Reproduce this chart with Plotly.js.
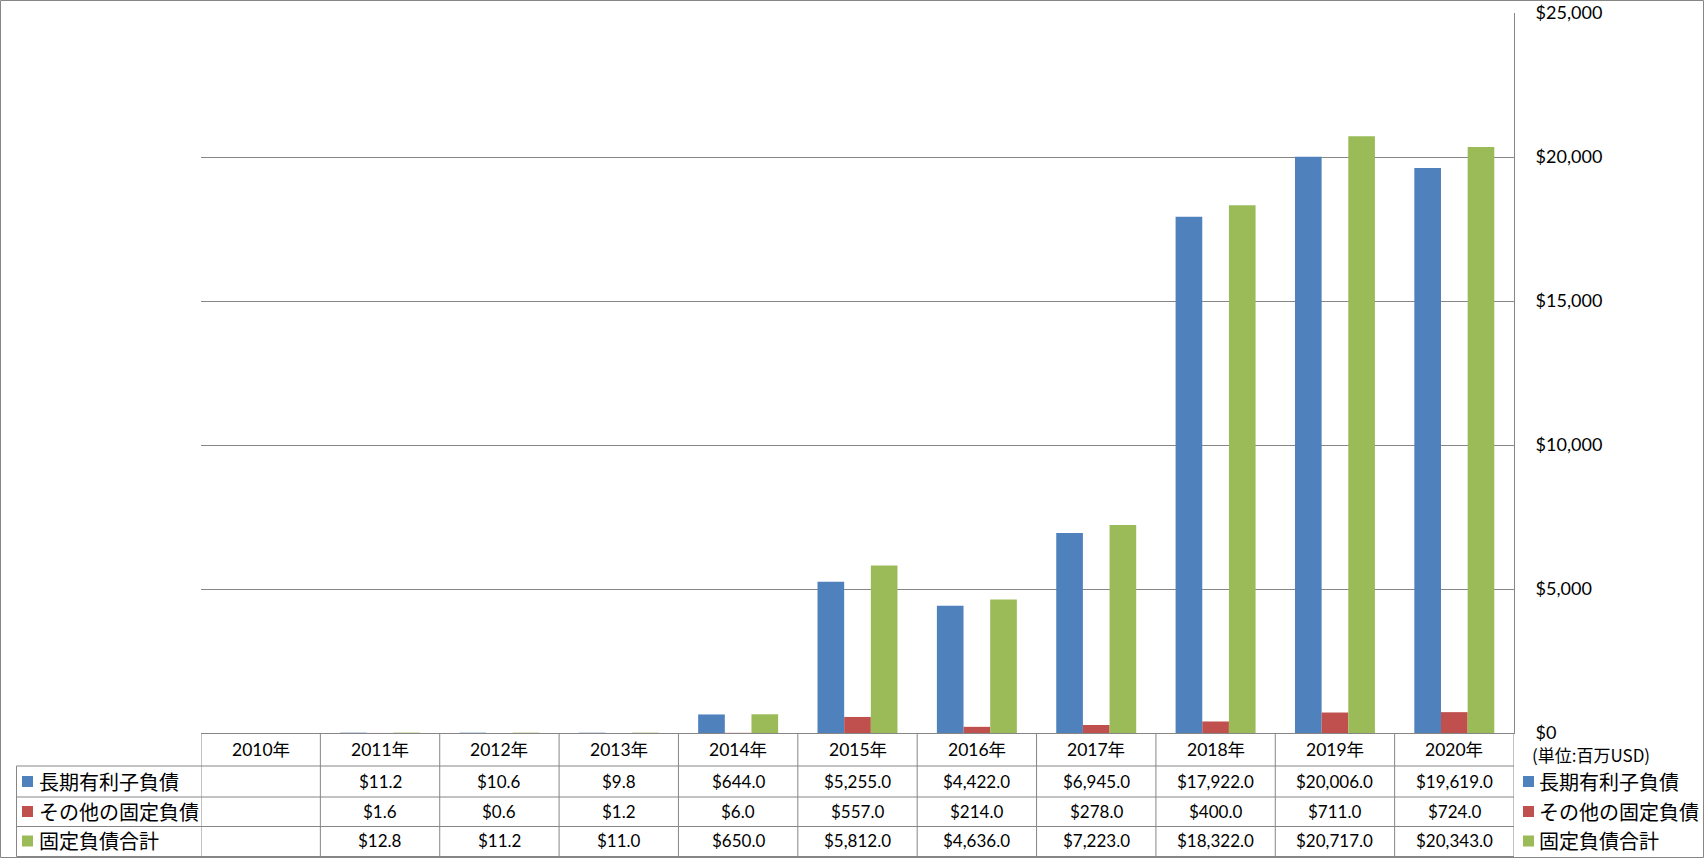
<!DOCTYPE html>
<html>
<head>
<meta charset="utf-8">
<script src="https://cdn.plot.ly/plotly-3.0.1.min.js"></script>
<style>
  html, body { margin: 0; padding: 0; background: #fff; }
  #chart { width: 1704px; height: 858px; }
</style>
</head>
<body>
<div id="chart"></div>
<script>
// ---- data ----
const years = ['2010年','2011年','2012年','2013年','2014年','2015年','2016年','2017年','2018年','2019年','2020年'];
const longTermDebt = [null, 11.2, 10.6, 9.8, 644.0, 5255.0, 4422.0, 6945.0, 17922.0, 20006.0, 19619.0];
const otherFixedLiabilities = [null, 1.6, 0.6, 1.2, 6.0, 557.0, 214.0, 278.0, 400.0, 711.0, 724.0];
const totalFixedLiabilities = [null, 12.8, 11.2, 11.0, 650.0, 5812.0, 4636.0, 7223.0, 18322.0, 20717.0, 20343.0];
const seriesNames = ['長期有利子負債', 'その他の固定負債', '固定負債合計'];
const seriesValues = [longTermDebt, otherFixedLiabilities, totalFixedLiabilities];
const seriesColors = ['#4F81BD', '#C0504D', '#9BBB59'];
const yTicks = [0, 5000, 10000, 15000, 20000, 25000];
const yTickLabels = ['$0', '$5,000', '$10,000', '$15,000', '$20,000', '$25,000'];
const unitLabel = '(単位:百万USD)';

// ---- layout geometry (pixels) ----
const FW = 1704, FH = 858;
const L = 201, R = 1514, T = 13, B = 733;
const W = R - L, H = B - T;
const px = p => (p - L) / W;
const py = p => (B - p) / H;
const rowLines = [766, 797, 826.5];
const rowCenters = [781.5, 811.5, 841];
const headerCenter = 749.5;
const tableBottom = 856.5;
const tableLeft = 16.5;
const gridColor = '#868686';
const numFont = 'Lato, "Noto Sans CJK JP", sans-serif';
const jpFont = '"Noto Sans CJK JP", sans-serif';

const traces = seriesNames.map((name, i) => ({
  type: 'bar',
  name: name,
  x: years,
  y: seriesValues[i],
  marker: { color: seriesColors[i], line: { width: 0 } },
  showlegend: false,
  hoverinfo: 'skip'
}));

const shapes = [];
const annotations = [];
const line = { color: gridColor, width: 1 };

// outer border
shapes.push({ type: 'rect', xref: 'paper', yref: 'paper',
  x0: px(0.5), x1: px(FW - 0.5), y0: py(FH - 0.5), y1: py(0.5), line: line });

// table horizontal lines
rowLines.concat([tableBottom]).forEach(yp => {
  shapes.push({ type: 'line', xref: 'paper', yref: 'paper',
    x0: px(tableLeft), x1: 1, y0: py(yp), y1: py(yp), line: line });
});
// label column left border
shapes.push({ type: 'line', xref: 'paper', yref: 'paper',
  x0: px(tableLeft), x1: px(tableLeft), y0: py(rowLines[0]), y1: py(tableBottom), line: line });
// category boundary lines
for (let k = 0; k <= years.length; k++) {
  shapes.push({ type: 'line', xref: 'x', yref: 'paper',
    x0: k - 0.5, x1: k - 0.5, y0: py(B), y1: py(tableBottom), line: line });
}

// header years
years.forEach(y => {
  annotations.push({ xref: 'x', yref: 'paper', x: y, y: py(headerCenter),
    text: y, showarrow: false, xanchor: 'center', yanchor: 'middle',
    font: { family: numFont, size: 17.5, color: '#000' } });
});

// table values
const fmt = v => '$' + v.toLocaleString('en-US', { minimumFractionDigits: 1, maximumFractionDigits: 1 });
seriesValues.forEach((vals, i) => {
  vals.forEach((v, j) => {
    if (v === null) return;
    annotations.push({ xref: 'x', yref: 'paper', x: years[j], y: py(rowCenters[i]),
      text: fmt(v), showarrow: false, xanchor: 'center', yanchor: 'middle',
      font: { family: numFont, size: 17, color: '#000' } });
  });
  // table row legend key + label
  shapes.push({ type: 'rect', xref: 'paper', yref: 'paper',
    x0: px(22), x1: px(33), y0: py(rowCenters[i] + 5.5), y1: py(rowCenters[i] - 5.5),
    fillcolor: seriesColors[i], line: { width: 0 } });
  annotations.push({ xref: 'paper', yref: 'paper', x: px(37), y: py(rowCenters[i]),
    text: seriesNames[i], showarrow: false, xanchor: 'left', yanchor: 'middle',
    font: { family: jpFont, size: 20, color: '#000' } });
  // right legend
  shapes.push({ type: 'rect', xref: 'paper', yref: 'paper',
    x0: px(1523), x1: px(1534), y0: py(rowCenters[i] + 5.5), y1: py(rowCenters[i] - 5.5),
    fillcolor: seriesColors[i], line: { width: 0 } });
  annotations.push({ xref: 'paper', yref: 'paper', x: px(1537), y: py(rowCenters[i]),
    text: seriesNames[i], showarrow: false, xanchor: 'left', yanchor: 'middle',
    font: { family: jpFont, size: 20, color: '#000' } });
});

// unit label
annotations.push({ xref: 'paper', yref: 'paper', x: px(1530), y: py(755),
  text: unitLabel, showarrow: false, xanchor: 'left', yanchor: 'middle',
  font: { family: jpFont, size: 17, color: '#000' } });

const layout = {
  width: FW, height: FH,
  margin: { l: L, r: FW - R, t: T, b: FH - B, pad: 0 },
  paper_bgcolor: '#fff', plot_bgcolor: '#fff',
  font: { family: numFont, color: '#000' },
  barmode: 'group', bargap: 0.33, bargroupgap: 0,
  showlegend: false,
  hovermode: false,
  xaxis: {
    type: 'category', categoryorder: 'array', categoryarray: years,
    range: [-0.5, years.length - 0.5],
    showticklabels: false, ticks: '', showgrid: false,
    showline: true, linecolor: gridColor, linewidth: 1, zeroline: false,
    fixedrange: true
  },
  yaxis: {
    side: 'right', range: [0, 25000],
    tickmode: 'array', tickvals: yTicks, ticktext: yTickLabels, ticks: '',
    ticklabelstandoff: 17,
    showgrid: true, gridcolor: gridColor, gridwidth: 1,
    showline: true, linecolor: gridColor, linewidth: 1,
    zeroline: false,
    tickfont: { family: numFont, size: 18, color: '#000' },
    fixedrange: true
  },
  shapes: shapes,
  annotations: annotations
};

Plotly.newPlot('chart', traces, layout, { staticPlot: true, displayModeBar: false });
</script>
</body>
</html>
